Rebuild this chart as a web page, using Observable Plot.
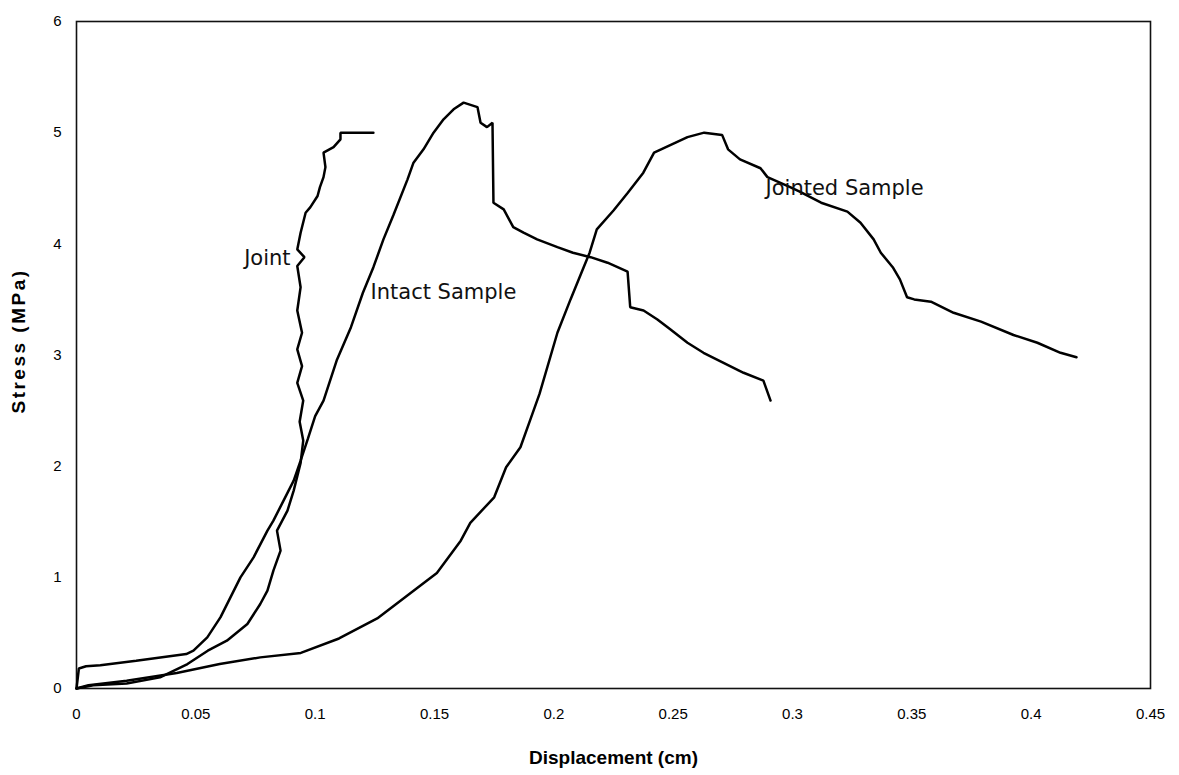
<!DOCTYPE html>
<html>
<head>
<meta charset="utf-8">
<script src="https://cdn.jsdelivr.net/npm/d3@7"></script>
<script src="https://cdn.jsdelivr.net/npm/@observablehq/plot@0.6"></script>
<style>
  html, body { margin: 0; padding: 0; background: #fff; }
</style>
</head>
<body>
<div id="chart"></div>
<script>
// ---- Data ----
const jointX = [0.000,0.007,0.021,0.035,0.0465,0.055,0.063,0.0716,0.077,0.080,0.0825,0.0855,0.084,0.0884,0.091,0.0939,0.095,0.0935,0.095,0.0925,0.0945,0.0925,0.0945,0.0925,0.0939,0.0925,0.0955,0.0925,0.0939,0.096,0.098,0.101,0.102,0.1035,0.1043,0.1035,0.1077,0.1106,0.1106,0.1177,0.1244];
const jointY = [0.00,0.03,0.045,0.10,0.22,0.34,0.43,0.58,0.76,0.88,1.06,1.24,1.42,1.60,1.78,2.03,2.23,2.40,2.59,2.75,2.90,3.05,3.20,3.40,3.61,3.80,3.88,3.95,4.10,4.28,4.33,4.43,4.51,4.60,4.69,4.82,4.87,4.94,5.00,5.00,5.00];

const intactX = [0.000,0.001,0.004,0.010,0.025,0.046,0.049,0.0548,0.0603,0.0687,0.0742,0.080,0.0825,0.0884,0.091,0.0939,0.097,0.100,0.1035,0.109,0.115,0.120,0.1244,0.1286,0.1328,0.1387,0.1412,0.1454,0.1496,0.1538,0.158,0.1622,0.168,0.1693,0.172,0.1743,0.1747,0.179,0.183,0.1873,0.193,0.2015,0.208,0.2154,0.2225,0.2309,0.232,0.2376,0.2434,0.2489,0.256,0.2627,0.2711,0.2795,0.2878,0.2908];
const intactY = [0.00,0.18,0.20,0.21,0.25,0.31,0.34,0.46,0.64,1.00,1.18,1.42,1.51,1.76,1.87,2.05,2.25,2.45,2.59,2.95,3.25,3.56,3.79,4.04,4.26,4.58,4.73,4.85,5.00,5.12,5.21,5.27,5.23,5.09,5.05,5.09,4.37,4.31,4.15,4.10,4.04,3.97,3.92,3.88,3.83,3.75,3.43,3.40,3.32,3.23,3.11,3.02,2.93,2.84,2.77,2.59];

const jointedX = [0.000,0.005,0.021,0.042,0.060,0.077,0.094,0.110,0.126,0.140,0.151,0.161,0.165,0.175,0.180,0.186,0.190,0.194,0.2015,0.207,0.2125,0.215,0.218,0.225,0.231,0.2375,0.242,0.249,0.256,0.263,0.2705,0.273,0.278,0.2866,0.2895,0.299,0.303,0.312,0.323,0.3285,0.334,0.337,0.342,0.345,0.348,0.351,0.358,0.3675,0.379,0.3926,0.4026,0.4123,0.419];
const jointedY = [0.00,0.03,0.07,0.14,0.22,0.28,0.32,0.45,0.63,0.86,1.04,1.33,1.49,1.72,1.99,2.17,2.41,2.65,3.20,3.50,3.79,3.92,4.13,4.30,4.46,4.64,4.82,4.89,4.96,5.00,4.98,4.85,4.76,4.68,4.60,4.51,4.47,4.37,4.29,4.19,4.04,3.92,3.79,3.68,3.52,3.50,3.48,3.38,3.30,3.18,3.11,3.02,2.98];

const seriesNames = ["Joint", "Intact Sample", "Jointed Sample"];
const labelX = [0.0897, 0.1232, 0.2887];
const labelY = [3.87, 3.56, 4.50];
const labelAnchor = ["end", "start", "start"];

const xTicks = [0, 0.05, 0.1, 0.15, 0.2, 0.25, 0.3, 0.35, 0.4, 0.45];
const xTickLabels = ["0", "0.05", "0.1", "0.15", "0.2", "0.25", "0.3", "0.35", "0.4", "0.45"];
const yTicks = [0, 1, 2, 3, 4, 5, 6];
const yTickLabels = ["0", "1", "2", "3", "4", "5", "6"];

const xTitle = "Displacement (cm)";
const yTitle = "Stress (MPa)";

// ---- Build tables ----
const toRows = (xs, ys, name) => xs.map((x, i) => ({x, y: ys[i], series: name}));
const rows = [
  ...toRows(jointX, jointY, seriesNames[0]),
  ...toRows(intactX, intactY, seriesNames[1]),
  ...toRows(jointedX, jointedY, seriesNames[2])
];
const labels = seriesNames.map((name, i) => ({name, x: labelX[i], y: labelY[i], anchor: labelAnchor[i]}));
const labelFont = "'DejaVu Sans', Verdana, sans-serif";

const chart = Plot.plot({
  width: 1179,
  height: 775,
  marginLeft: 76,
  marginRight: 29,
  marginTop: 21,
  marginBottom: 87,
  style: {fontFamily: "'Liberation Sans', Arial, sans-serif", fontSize: "15px", color: "#000", background: "#fff"},
  x: {domain: [0, 0.45]},
  y: {domain: [0, 6]},
  marks: [
    Plot.frame({stroke: "#111", strokeWidth: 1.6}),
    Plot.axisX({ticks: xTicks, tickFormat: d => xTickLabels[xTicks.indexOf(d)], tickSize: 0, tickPadding: 20, label: null, fontSize: 15}),
    Plot.axisY({ticks: yTicks, tickFormat: d => yTickLabels[yTicks.indexOf(d)], tickSize: 0, tickPadding: 15, label: null, fontSize: 15}),
    Plot.line(rows, {x: "x", y: "y", z: "series", stroke: "#000", strokeWidth: 2.5, strokeLinejoin: "miter"}),
    Plot.text(labels.filter(d => d.anchor === "end"), {x: "x", y: "y", text: "name", textAnchor: "end", fontFamily: labelFont, fontSize: 21, fill: "#111"}),
    Plot.text(labels.filter(d => d.anchor === "start"), {x: "x", y: "y", text: "name", textAnchor: "start", fontFamily: labelFont, fontSize: 21, fill: "#111"}),
    Plot.text([xTitle], {frameAnchor: "bottom", textAnchor: "middle", lineAnchor: "middle", dy: 69, text: d => d, fontWeight: "bold", fontSize: 19, fill: "#000"}),
    Plot.text([yTitle], {frameAnchor: "left", textAnchor: "middle", lineAnchor: "middle", dx: -58, dy: -14, rotate: -90, text: d => d, fontWeight: "bold", fontSize: 19, fill: "#000"})
  ]
});
// widen the letter spacing of the vertical axis title, as in the reference
chart.querySelectorAll("text").forEach(t => {
  if (t.textContent === yTitle) t.setAttribute("letter-spacing", "2.5px");
});
document.getElementById("chart").appendChild(chart);
</script>
</body>
</html>
